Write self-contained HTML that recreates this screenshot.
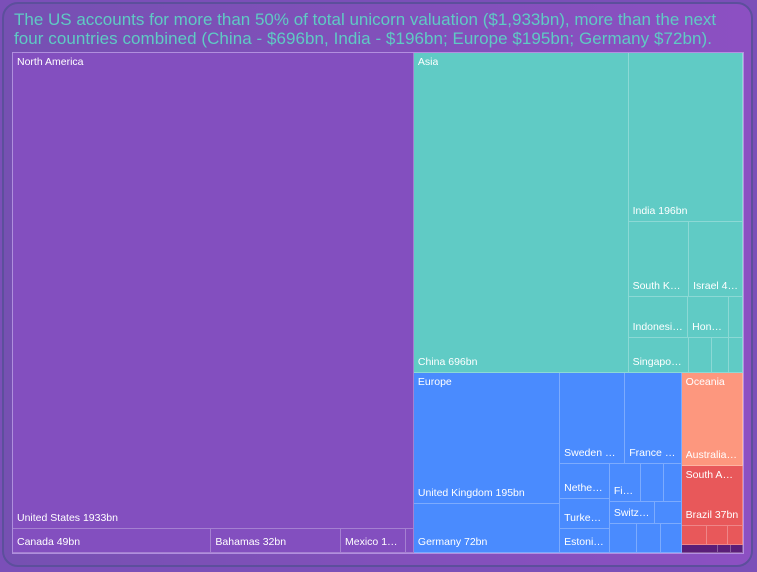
<!DOCTYPE html>
<html><head><meta charset="utf-8">
<style>
html,body{margin:0;padding:0;width:757px;height:572px;overflow:hidden;background:#7b4fb8;font-family:"Liberation Sans",sans-serif;}
#card{position:absolute;left:2px;top:2px;width:747px;height:561px;border:2px solid #5c4f9c;border-radius:16px;background:linear-gradient(90deg,#7650b2,#8c50c2);}
#title{position:absolute;left:14px;top:10px;width:740px;color:#5fcac4;font-size:17px;line-height:19px;font-weight:normal;white-space:nowrap;}
#title .l2{letter-spacing:0.05px;}
#map{position:absolute;left:13px;top:53px;width:730px;height:500px;}
.cell{position:absolute;box-sizing:border-box;border-right:1px solid rgba(255,255,255,0.28);border-bottom:1px solid rgba(255,255,255,0.28);overflow:hidden;}
.lbl{position:absolute;left:4px;right:3px;bottom:4px;color:#fff;font-size:10.5px;white-space:nowrap;overflow:hidden;text-overflow:ellipsis;}
.glbl{position:absolute;color:#fff;font-size:10.5px;white-space:nowrap;overflow:hidden;text-overflow:ellipsis;}
</style></head><body>
<div id="card"></div>
<div id="title">The US accounts for more than 50% of total unicorn valuation ($1,933bn), more than the next<br><span class="l2">four countries combined (China - $696bn, India - $196bn; Europe $195bn; Germany $72bn).</span></div>
<div id="map"></div>
<script>
const naNames=['United States','Canada','Bahamas','Mexico',''];
const naValues=[1933,49,32,16,2];
const asiaNames=['China','India','South Korea','Israel','Indonesia','Hong Kong','','Singapore','','',''];
const asiaValues=[696,196,46,41,25,17,6,21,8,6,5];
const euNames=['United Kingdom','Germany','Sweden','France','Netherlands','Turkey','Estonia','Finland','Ireland','','Switzerland','','','',''];
const euValues=[195,72,60,52,18,15,12,12,9,7,10,6,8,7,6];
const ocNames=['Australia'];
const ocValues=[58];
const saNames=['Brazil','','',''];
const saValues=[37,5,4,3];
const afNames=['','',''];
const afValues=[3,1,1];

const colors={na:'#834fbf',asia:'#60cbc5',eu:'#4a8bfe',oc:'#fd977e',sa:'#e8585a',af:'#5a1e78'};
const L=(g,names,vals,i)=>({leaf:true,g:g,name:names[i],value:vals[i]});
const N=(dir,children,label,key)=>({dir:dir,children:children,label:label,key:key});
const na=i=>L('na',naNames,naValues,i), as=i=>L('asia',asiaNames,asiaValues,i), eu=i=>L('eu',euNames,euValues,i);
const oc=i=>L('oc',ocNames,ocValues,i), sa=i=>L('sa',saNames,saValues,i), af=i=>L('af',afNames,afValues,i);

const tree=N('h',[
  N('v',[na(0),N('h',[na(1),na(2),na(3),na(4)])],'North America','north-america'),
  N('v',[
    N('h',[as(0),N('v',[as(1),N('h',[as(2),as(3)]),N('h',[as(4),as(5),as(6)]),N('h',[as(7),as(8),as(9),as(10)])])],'Asia','asia'),
    N('h',[
      N('h',[N('v',[eu(0),eu(1)]),N('v',[N('h',[eu(2),eu(3)]),N('h',[N('v',[eu(4),eu(5),eu(6)]),N('v',[N('h',[eu(7),eu(8),eu(9)]),N('h',[eu(10),eu(11)]),N('h',[eu(12),eu(13),eu(14)])])])])],'Europe','europe'),
      N('v',[N('v',[oc(0)],'Oceania','oceania'),N('v',[sa(0),N('h',[sa(1),sa(2),sa(3)])],'South America','south-america'),N('h',[af(0),af(1),af(2)],'','africa')])
    ])
  ])
]);
function total(n){return n.leaf?n.value:n.children.reduce((s,c)=>s+total(c),0);}
const map=document.getElementById('map');
const groupLabels=[];
function layout(n,x,y,w,h){
  if(n.leaf){
    const d=document.createElement('div');d.className='cell';
    
    
    d.style.left=x+'px';d.style.top=y+'px';d.style.width=w+'px';d.style.height=h+'px';
    d.style.background=colors[n.g];
    if(n.name&&w>28&&h>16){const s=document.createElement('div');s.className='lbl';s.textContent=n.name+' '+n.value+'bn';
      
      
      d.appendChild(s);}
    map.appendChild(d);return;
  }
  if(n.label)groupLabels.push([n,x,y,w]);
  const t=total(n);let off=0;
  n.children.forEach(c=>{const f=total(c)/t;
    if(n.dir==='h'){const cw=w*f;layout(c,x+off,y,cw,h);off+=cw;}
    else{const ch=h*f;layout(c,x,y+off,w,ch);off+=ch;}});
}
layout(tree,0,0,730,500);
groupLabels.forEach(([n,x,y,w])=>{const g=document.createElement('div');g.className='glbl';g.textContent=n.label;
  
  
  g.style.left=(x+4)+'px';g.style.top=(y+3)+'px';g.style.maxWidth=(w-8)+'px';map.appendChild(g);});
const fr=document.createElement('div');


fr.style.cssText='position:absolute;left:-1px;top:-1px;width:730px;height:500px;border:1px solid rgba(200,170,240,0.7);pointer-events:none;';
map.appendChild(fr);
</script>
</body></html>
